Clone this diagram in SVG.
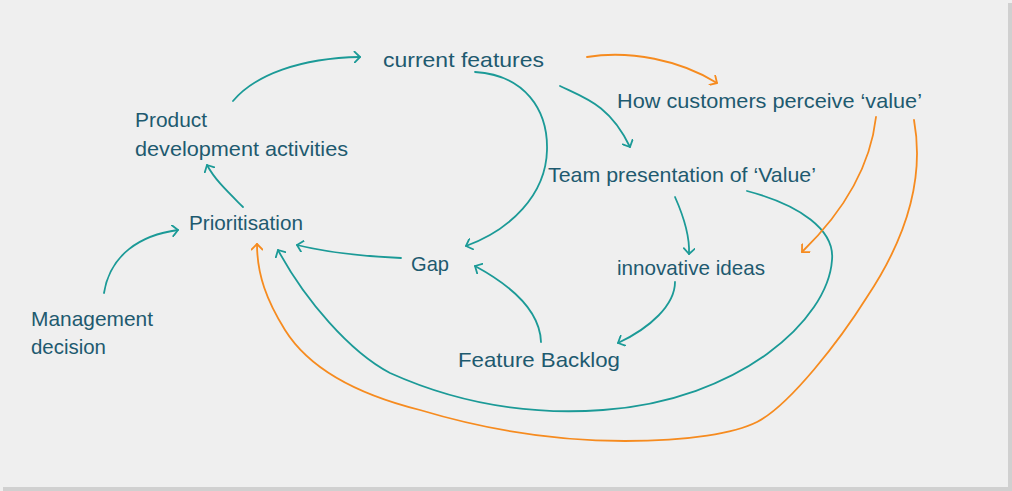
<svg xmlns="http://www.w3.org/2000/svg" width="1012" height="491" viewBox="0 0 1012 491">
<style>
.t{font-family:"Liberation Sans","DejaVu Sans",sans-serif;font-size:21px;fill:#1e5a6f;}
.c{fill:none;stroke:#1b9a97;stroke-width:1.8;stroke-linecap:round;}
.o{fill:none;stroke:#f68b1f;stroke-width:1.8;stroke-linecap:round;}
</style>
<defs>
<marker id="ah" viewBox="0 0 12 12" refX="6.5" refY="6" markerWidth="12" markerHeight="12" markerUnits="userSpaceOnUse" orient="auto"><path d="M1,0.5 L6.5,6 L1,11.5" fill="none" stroke="#1b9a97" stroke-width="1.8" stroke-linecap="round" stroke-linejoin="round"/></marker>
<marker id="ao" viewBox="0 0 12 12" refX="6.5" refY="6" markerWidth="12" markerHeight="12" markerUnits="userSpaceOnUse" orient="auto"><path d="M1,0.5 L6.5,6 L1,11.5" fill="none" stroke="#f68b1f" stroke-width="1.8" stroke-linecap="round" stroke-linejoin="round"/></marker>
</defs>
<rect x="0" y="0" width="1012" height="491" fill="#efefef"/>
<rect x="1008" y="3" width="4" height="488" fill="#d0d0d0"/>
<rect x="3" y="487" width="1009" height="4" fill="#d0d0d0"/>
<g id="connectors">
<path class="c" marker-end="url(#ah)" d="M233,101 C255,75 300,58 360,57"/>
<path class="c" marker-end="url(#ah)" d="M475,72 C525,75 548,110 547,150 C546,195 510,230 466,246"/>
<path class="c" marker-end="url(#ah)" d="M560,86 C585,98 610,105 630,147"/>
<path class="c" marker-end="url(#ah)" d="M243,207 C228,192 215,180 207,165"/>
<path class="c" marker-end="url(#ah)" d="M104,293 C110,255 140,235 178,230"/>
<path class="c" marker-end="url(#ah)" d="M401,258 C360,256 325,252 297,245"/>
<path class="c" marker-end="url(#ah)" d="M541,342 C540,310 510,285 475,266"/>
<path class="c" marker-end="url(#ah)" d="M675,197 C683,215 690,235 689,254"/>
<path class="c" marker-end="url(#ah)" d="M675,282 C675,305 650,328 618,343"/>
<path class="c" marker-end="url(#ah)" d="M747,191 C800,205 835,230 832,260 C828,320 740,400 603,410 C520,416 450,400 390,373 C350,352 305,300 278,250"/>
<path class="o" marker-end="url(#ao)" d="M587,57 C630,50 680,60 717,83"/>
<path class="o" marker-end="url(#ao)" d="M876,117 C870,170 840,215 802,252"/>
<path class="o" marker-end="url(#ao)" d="M914,120 C925,180 905,240 867,297 C840,340 790,405 757,422 C735,433 690,441 625,441 C540,441 470,425 420,410 C360,395 310,370 285,330 C267,301 257,275 257,244"/>
</g>
<g id="current-features"><text class="t" x="383" y="67" textLength="161" lengthAdjust="spacingAndGlyphs">current features</text></g>
<g id="how-customers"><text class="t" x="617" y="108" textLength="305" lengthAdjust="spacingAndGlyphs">How customers perceive ‘value’</text></g>
<g id="product-dev"><text class="t" x="135" y="127" textLength="72" lengthAdjust="spacingAndGlyphs">Product</text><text class="t" x="135" y="156" textLength="213" lengthAdjust="spacingAndGlyphs">development activities</text></g>
<g id="team-presentation"><text class="t" x="548" y="182" textLength="268" lengthAdjust="spacingAndGlyphs">Team presentation of ‘Value’</text></g>
<g id="prioritisation"><text class="t" x="189" y="230" textLength="114" lengthAdjust="spacingAndGlyphs">Prioritisation</text></g>
<g id="gap"><text class="t" x="411" y="271" textLength="38" lengthAdjust="spacingAndGlyphs">Gap</text></g>
<g id="innovative-ideas"><text class="t" x="617" y="275" textLength="148" lengthAdjust="spacingAndGlyphs">innovative ideas</text></g>
<g id="management-decision"><text class="t" x="31" y="326" textLength="122" lengthAdjust="spacingAndGlyphs">Management</text><text class="t" x="31" y="354" textLength="75" lengthAdjust="spacingAndGlyphs">decision</text></g>
<g id="feature-backlog"><text class="t" x="458" y="367" textLength="162" lengthAdjust="spacingAndGlyphs">Feature Backlog</text></g>
</svg>
